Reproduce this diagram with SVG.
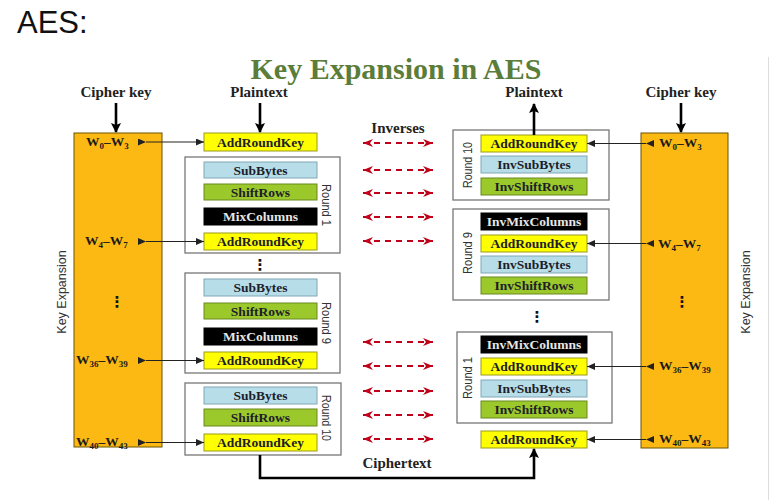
<svg xmlns="http://www.w3.org/2000/svg" width="773" height="500" viewBox="0 0 773 500">
<defs>
<style>
.bg{fill:#ffffff}
.key{fill:#FDB913;stroke:#6b5200;stroke-width:1}
.round{fill:#ffffff;stroke:#777777;stroke-width:1.3}
.ark{fill:#FFFF00;stroke:#9a9a20;stroke-width:1}
.sub{fill:#B7DDE8;stroke:#7fa7b5;stroke-width:1}
.shift{fill:#9BC82A;stroke:#6b8a1e;stroke-width:1}
.mix{fill:#000000;stroke:#000000;stroke-width:1}
.bt{font-family:"Liberation Serif",serif;font-weight:bold;font-size:13.5px;fill:#1d1d2b;text-anchor:middle}
.bw{font-family:"Liberation Serif",serif;font-weight:bold;font-size:13.5px;fill:#e6e6e6;text-anchor:middle}
.lab{font-family:"Liberation Serif",serif;font-weight:bold;font-size:15px;fill:#222;text-anchor:middle}
.w{font-family:"Liberation Serif",serif;font-weight:bold;font-size:13.5px;fill:#1a1a1a}
.rl{font-family:"Liberation Sans",sans-serif;font-size:13px;fill:#333;text-anchor:middle}
.ke{font-family:"Liberation Sans",sans-serif;font-size:12.5px;fill:#333;text-anchor:middle}
.dots{font-family:"DejaVu Sans",sans-serif;font-weight:bold;font-size:15px;fill:#111;text-anchor:middle}
.thin{stroke:#222;stroke-width:1.1;fill:none}
.thick{stroke:#000;stroke-width:2.6;fill:none}
.inv{stroke:#C00018;stroke-width:1.8;stroke-dasharray:6,5;fill:none}
</style>
<marker id="ah" markerWidth="8" markerHeight="7" refX="8" refY="3.5" orient="auto" markerUnits="userSpaceOnUse">
<path d="M0,0 L8,3.5 L0,7 z" fill="#222"/>
</marker>
<marker id="ahb" markerWidth="10" markerHeight="10" refX="9" refY="5" orient="auto" markerUnits="userSpaceOnUse">
<path d="M0,0 L10,5 L0,10 L2,5 z" fill="#000"/>
</marker>
<marker id="ahr" markerWidth="10" markerHeight="8" refX="10" refY="4" orient="auto-start-reverse" markerUnits="userSpaceOnUse">
<path d="M0,0 L10,4 L0,8 L3,4 z" fill="#C00018"/>
</marker>
</defs>
<rect class="bg" x="0" y="0" width="773" height="500"/>
<line x1="768.5" y1="57" x2="768.5" y2="500" stroke="#dddddd" stroke-width="1"/>

<text x="17" y="33" font-family="Liberation Sans, sans-serif" font-size="31" fill="#111">AES:</text>
<text x="396" y="79" font-family="Liberation Serif, serif" font-weight="bold" font-size="30" fill="#5B7D3A" text-anchor="middle">Key Expansion in AES</text>

<text class="lab" x="116" y="97">Cipher key</text>
<text class="lab" x="259" y="97">Plaintext</text>
<text class="lab" x="534" y="97">Plaintext</text>
<text class="lab" x="681" y="97">Cipher key</text>
<text class="lab" x="398" y="133">Inverses</text>
<text class="lab" x="397" y="468">Ciphertext</text>

<g id="keyexp-left">
<rect class="key" x="74" y="133" width="88" height="314"/>
<text class="ke" transform="translate(66,292) rotate(-90)">Key Expansion</text>
<text class="w" x="86" y="146">W<tspan font-size="9" dy="3">0</tspan><tspan dy="-3">–W</tspan><tspan font-size="9" dy="3">3</tspan></text>
<text class="w" x="85" y="245">W<tspan font-size="9" dy="3">4</tspan><tspan dy="-3">–W</tspan><tspan font-size="9" dy="3">7</tspan></text>
<text class="dots" x="117" y="307">⋮</text>
<text class="w" x="76" y="364">W<tspan font-size="9" dy="3">36</tspan><tspan dy="-3">–W</tspan><tspan font-size="9" dy="3">39</tspan></text>
<text class="w" x="76" y="446">W<tspan font-size="9" dy="3">40</tspan><tspan dy="-3">–W</tspan><tspan font-size="9" dy="3">43</tspan></text>
</g>

<g id="keyexp-right">
<rect class="key" x="641" y="133" width="87" height="315"/>
<text class="ke" transform="translate(750,292) rotate(-90)">Key Expansion</text>
<text class="w" x="659" y="147">W<tspan font-size="9" dy="3">0</tspan><tspan dy="-3">–W</tspan><tspan font-size="9" dy="3">3</tspan></text>
<text class="w" x="658" y="248">W<tspan font-size="9" dy="3">4</tspan><tspan dy="-3">–W</tspan><tspan font-size="9" dy="3">7</tspan></text>
<text class="dots" x="682" y="307">⋮</text>
<text class="w" x="659" y="370">W<tspan font-size="9" dy="3">36</tspan><tspan dy="-3">–W</tspan><tspan font-size="9" dy="3">39</tspan></text>
<text class="w" x="659" y="443">W<tspan font-size="9" dy="3">40</tspan><tspan dy="-3">–W</tspan><tspan font-size="9" dy="3">43</tspan></text>
</g>

<g id="enc-initial">
<rect class="ark" x="204" y="133" width="113" height="18"/>
<text class="bt" x="260.5" y="146.5">AddRoundKey</text>
</g>

<g id="enc-round1">
<rect class="round" x="185" y="157" width="155" height="96"/>
<rect class="sub" x="204" y="162" width="113" height="16"/>
<text class="bt" x="260.5" y="174.5">SubBytes</text>
<rect class="shift" x="204" y="184" width="113" height="16"/>
<text class="bt" x="260.5" y="196.5">ShiftRows</text>
<rect class="mix" x="204" y="208" width="113" height="17"/>
<text class="bw" x="260.5" y="221">MixColumns</text>
<rect class="ark" x="204" y="233" width="113" height="17"/>
<text class="bt" x="260.5" y="246">AddRoundKey</text>
<text class="rl" transform="translate(322,205) rotate(90)" textLength="42" lengthAdjust="spacingAndGlyphs">Round 1</text>
</g>

<text class="dots" x="260" y="270">⋮</text>

<g id="enc-round9">
<rect class="round" x="185" y="273" width="155" height="100"/>
<rect class="sub" x="204" y="279" width="113" height="17"/>
<text class="bt" x="260.5" y="292">SubBytes</text>
<rect class="shift" x="204" y="303" width="113" height="16"/>
<text class="bt" x="260.5" y="315.5">ShiftRows</text>
<rect class="mix" x="204" y="328" width="113" height="17"/>
<text class="bw" x="260.5" y="341">MixColumns</text>
<rect class="ark" x="204" y="352" width="113" height="17"/>
<text class="bt" x="260.5" y="365">AddRoundKey</text>
<text class="rl" transform="translate(322,323) rotate(90)" textLength="42" lengthAdjust="spacingAndGlyphs">Round 9</text>
</g>

<g id="enc-round10">
<rect class="round" x="185" y="383" width="156" height="72"/>
<rect class="sub" x="204" y="387" width="113" height="17"/>
<text class="bt" x="260.5" y="400">SubBytes</text>
<rect class="shift" x="204" y="409" width="113" height="17"/>
<text class="bt" x="260.5" y="422">ShiftRows</text>
<rect class="ark" x="204" y="434" width="113" height="17"/>
<text class="bt" x="260.5" y="447">AddRoundKey</text>
<text class="rl" transform="translate(322,418) rotate(90)" textLength="46" lengthAdjust="spacingAndGlyphs">Round 10</text>
</g>

<g id="dec-round10">
<rect class="round" x="453" y="130" width="156" height="70"/>
<rect class="ark" x="481" y="135" width="106" height="17"/>
<text class="bt" x="534" y="148">AddRoundKey</text>
<rect class="sub" x="481" y="156" width="106" height="17"/>
<text class="bt" x="534" y="169">InvSubBytes</text>
<rect class="shift" x="481" y="178" width="106" height="17"/>
<text class="bt" x="534" y="191">InvShiftRows</text>
<text class="rl" transform="translate(472,165) rotate(-90)" textLength="46" lengthAdjust="spacingAndGlyphs">Round 10</text>
</g>

<g id="dec-round9">
<rect class="round" x="453" y="209" width="156" height="91"/>
<rect class="mix" x="481" y="213" width="106" height="17"/>
<text class="bw" x="534" y="226">InvMixColumns</text>
<rect class="ark" x="481" y="235" width="106" height="17"/>
<text class="bt" x="534" y="248">AddRoundKey</text>
<rect class="sub" x="481" y="256" width="106" height="17"/>
<text class="bt" x="534" y="269">InvSubBytes</text>
<rect class="shift" x="481" y="277" width="106" height="17"/>
<text class="bt" x="534" y="290">InvShiftRows</text>
<text class="rl" transform="translate(472,253) rotate(-90)" textLength="42" lengthAdjust="spacingAndGlyphs">Round 9</text>
</g>

<text class="dots" x="537" y="322">⋮</text>

<g id="dec-round1">
<rect class="round" x="457" y="332" width="155" height="91"/>
<rect class="mix" x="481" y="336" width="106" height="17"/>
<text class="bw" x="534" y="349">InvMixColumns</text>
<rect class="ark" x="481" y="358" width="106" height="17"/>
<text class="bt" x="534" y="371">AddRoundKey</text>
<rect class="sub" x="481" y="380" width="106" height="17"/>
<text class="bt" x="534" y="393">InvSubBytes</text>
<rect class="shift" x="481" y="401" width="106" height="17"/>
<text class="bt" x="534" y="414">InvShiftRows</text>
<text class="rl" transform="translate(472,378) rotate(-90)" textLength="42" lengthAdjust="spacingAndGlyphs">Round 1</text>
</g>

<g id="dec-final">
<rect class="ark" x="481" y="431" width="106" height="17"/>
<text class="bt" x="534" y="444">AddRoundKey</text>
</g>

<g id="connectors">
<line class="thick" x1="116" y1="103" x2="116" y2="132" marker-end="url(#ahb)"/>
<line class="thick" x1="260" y1="103" x2="260" y2="132" marker-end="url(#ahb)"/>
<line class="thick" x1="534" y1="135" x2="534" y2="104" marker-end="url(#ahb)"/>
<line class="thick" x1="681" y1="103" x2="681" y2="132" marker-end="url(#ahb)"/>
<path class="thick" d="M260,455 V478 H534 V449" stroke-width="3" marker-end="url(#ahb)"/>

<line class="thin" x1="146" y1="142" x2="204" y2="142" marker-start="url(#ah)" marker-end="url(#ah)"/>
<line class="thin" x1="146" y1="241.5" x2="204" y2="241.5" marker-start="url(#ah)" marker-end="url(#ah)"/>
<line class="thin" x1="146" y1="360.5" x2="204" y2="360.5" marker-start="url(#ah)" marker-end="url(#ah)"/>
<line class="thin" x1="146" y1="442.5" x2="204" y2="442.5" marker-start="url(#ah)" marker-end="url(#ah)"/>

<line class="thin" x1="646" y1="143.5" x2="587" y2="143.5" marker-start="url(#ah)" marker-end="url(#ah)"/>
<line class="thin" x1="646" y1="243.5" x2="587" y2="243.5" marker-start="url(#ah)" marker-end="url(#ah)"/>
<line class="thin" x1="646" y1="366.5" x2="587" y2="366.5" marker-start="url(#ah)" marker-end="url(#ah)"/>
<line class="thin" x1="646" y1="439.5" x2="587" y2="439.5" marker-start="url(#ah)" marker-end="url(#ah)"/>

<line class="inv" x1="363" y1="143" x2="433" y2="143" marker-start="url(#ahr)" marker-end="url(#ahr)"/>
<line class="inv" x1="363" y1="170" x2="433" y2="170" marker-start="url(#ahr)" marker-end="url(#ahr)"/>
<line class="inv" x1="363" y1="193" x2="433" y2="193" marker-start="url(#ahr)" marker-end="url(#ahr)"/>
<line class="inv" x1="363" y1="217" x2="433" y2="217" marker-start="url(#ahr)" marker-end="url(#ahr)"/>
<line class="inv" x1="363" y1="241" x2="433" y2="241" marker-start="url(#ahr)" marker-end="url(#ahr)"/>
<line class="inv" x1="363" y1="342" x2="433" y2="342" marker-start="url(#ahr)" marker-end="url(#ahr)"/>
<line class="inv" x1="363" y1="366" x2="433" y2="366" marker-start="url(#ahr)" marker-end="url(#ahr)"/>
<line class="inv" x1="363" y1="391" x2="433" y2="391" marker-start="url(#ahr)" marker-end="url(#ahr)"/>
<line class="inv" x1="363" y1="415" x2="433" y2="415" marker-start="url(#ahr)" marker-end="url(#ahr)"/>
<line class="inv" x1="363" y1="439" x2="433" y2="439" marker-start="url(#ahr)" marker-end="url(#ahr)"/>
</g>
</svg>
